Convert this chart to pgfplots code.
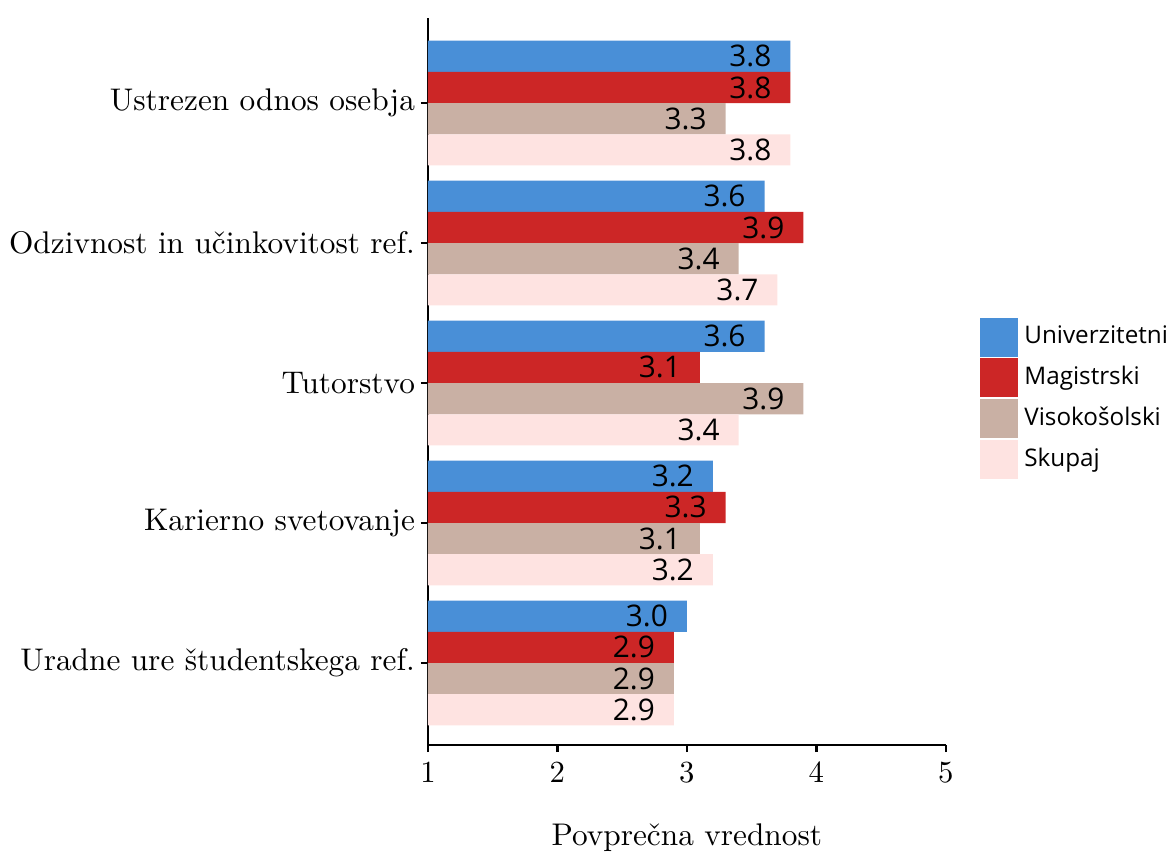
\documentclass[border=0pt]{standalone}
\usepackage{fontspec}
\newfontfamily\osans{Open Sans}
\usepackage{pgfplots}
\usepackage{pgfplotstable}
\pgfplotsset{compat=1.18}
\definecolor{cUni}{RGB}{73,143,215}
\definecolor{cMag}{RGB}{204,38,38}
\definecolor{cVis}{RGB}{201,176,164}
\definecolor{cSku}{RGB}{254,227,225}
\pgfplotstableread{
y x
4 3.8
3 3.6
2 3.6
1 3.2
0 3.0
}\tUni
\pgfplotstableread{
y x
4 3.8
3 3.9
2 3.1
1 3.3
0 2.9
}\tMag
\pgfplotstableread{
y x
4 3.3
3 3.4
2 3.9
1 3.1
0 2.9
}\tVis
\pgfplotstableread{
y x
4 3.8
3 3.7
2 3.4
1 3.2
0 2.9
}\tSku
\begin{document}
\begin{tikzpicture}
\path[use as bounding box] (0,0) rectangle (380.8pt,277.9pt);
\begin{axis}[
 at={(139.4pt,35.2pt)}, anchor=south west,
 scale only axis, width=168.7pt, height=236.8pt,
 xmin=1, xmax=5, ymin=-0.586, ymax=4.607,
 xbar, bar width=0.223,
 axis lines=left, axis line style={-, line width=0.8pt},
 tick align=outside, major tick length=2.3pt, tick style={line width=0.8pt, black},
 xtick={1,...,5}, ytick={0,...,4},
 tick label style={font=\fontsize{10.2}{12}\selectfont},
 label style={font=\fontsize{10.2}{12}\selectfont},
 yticklabels={Uradne ure študentskega ref., Karierno svetovanje, Tutorstvo, Odzivnost in učinkovitost ref., Ustrezen odnos osebja},
 yticklabel style={xshift=1.6pt},
 xlabel={Povprečna vrednost},
 xlabel style={at={(axis description cs:0.5,0)}, anchor=base, yshift=-32.6pt},
 point meta=x,
 nodes near coords={\pgfmathprintnumber[fixed,fixed zerofill,precision=1,assume math mode=true]{\pgfplotspointmeta}},
 nodes near coords style={anchor=east, xshift=-6pt, font=\osans\fontsize{9.7}{10}\selectfont, text=black, inner sep=0pt},
 legend style={draw=none, fill=none, at={(axis description cs:1,0.477)}, anchor=west, xshift=11pt,
   font=\osans\fontsize{7.9}{9}\selectfont, row sep=0.6pt, inner sep=0pt},
 legend cell align=left,
 legend image code/.code={\fill[#1, draw=none] (0pt,-6.35pt) rectangle (12.4pt,6.35pt);},
]
\addplot[fill=cUni, draw=none, bar shift=0.3345] table[x=x,y=y] {\tUni};
\addplot[fill=cMag, draw=none, bar shift=0.1115] table[x=x,y=y] {\tMag};
\addplot[fill=cVis, draw=none, bar shift=-0.1115] table[x=x,y=y] {\tVis};
\addplot[fill=cSku, draw=none, bar shift=-0.3345] table[x=x,y=y] {\tSku};
\legend{Univerzitetni, Magistrski, Visokošolski, Skupaj}
\end{axis}
\end{tikzpicture}
\end{document}
